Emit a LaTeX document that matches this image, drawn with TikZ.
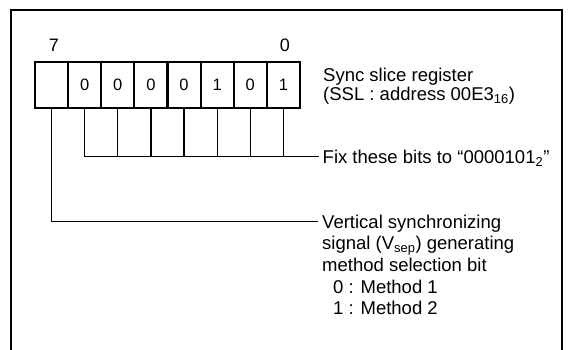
\documentclass[tikz,border=0pt]{standalone}
\usepackage{fontspec}
\setmainfont{Liberation Sans}
\begin{document}
\begin{tikzpicture}[x=1pt,y=-1pt,
  frame/.style={line width=2.8pt},
  cell/.style={draw,line width=2pt,minimum width=33.125pt,minimum height=46pt,inner sep=0pt,font=\fontsize{16.5}{18}\selectfont},
  bitno/.style={inner sep=0pt,font=\fontsize{18}{20}\selectfont},
  lead/.style={line width=1.3pt},
  lbl/.style={inner sep=0pt,anchor=base west}]
\useasboundingbox (0,0) rectangle (571,350);
% outer frame (open at the bottom)
\draw[frame] (11,351) -- (11,10) -- (562,10) -- (562,351);
% register cells
\node[cell] (c7) at (51.56,85) {};
\node[cell] (c6) at (84.69,85) {0};
\node[cell] (c5) at (117.81,85) {0};
\node[cell] (c4) at (150.94,85) {0};
\node[cell] (c3) at (184.06,85) {0};
\node[cell] (c2) at (217.19,85) {1};
\node[cell] (c1) at (250.31,85) {0};
\node[cell] (c0) at (283.44,85) {1};
% bit numbers
\node[bitno] (b7) at (54,45.5) {7};
\node[bitno] (b0) at (285,45.5) {0};
% labels
\node[lbl] (sync) at (323,81.7) {\fontsize{18.5}{19}\selectfont\begin{tabular}[t]{@{}l@{}}Sync slice register\\(SSL : address 00E3\textsubscript{16})\end{tabular}};
\node[lbl] (fix) at (322.5,163.3) {\fontsize{18.5}{21.7}\selectfont Fix these bits to “0000101\textsubscript{2}”};
\node[lbl] (vsel) at (322,228.2) {\fontsize{18.5}{21.7}\selectfont\begin{tabular}[t]{@{}l@{}}Vertical synchronizing\\signal (V\textsubscript{sep}) generating\\method selection bit\\\hspace{11pt}0 : Method 1\\\hspace{11pt}1 : Method 2\end{tabular}};
% connector end points
\coordinate (fixend) at (319,156.7);
\coordinate (vend) at (318,221.7);
% leaders for bits 6..0
\draw[lead] (c6.south) |- (fixend);
\foreach \c in {c5,c4,c3,c2,c1,c0} \draw[lead] (\c.south) -- (\c.south |- fixend);
% leader for bit 7
\draw[lead] (c7.south) |- (vend);
\end{tikzpicture}
\end{document}
